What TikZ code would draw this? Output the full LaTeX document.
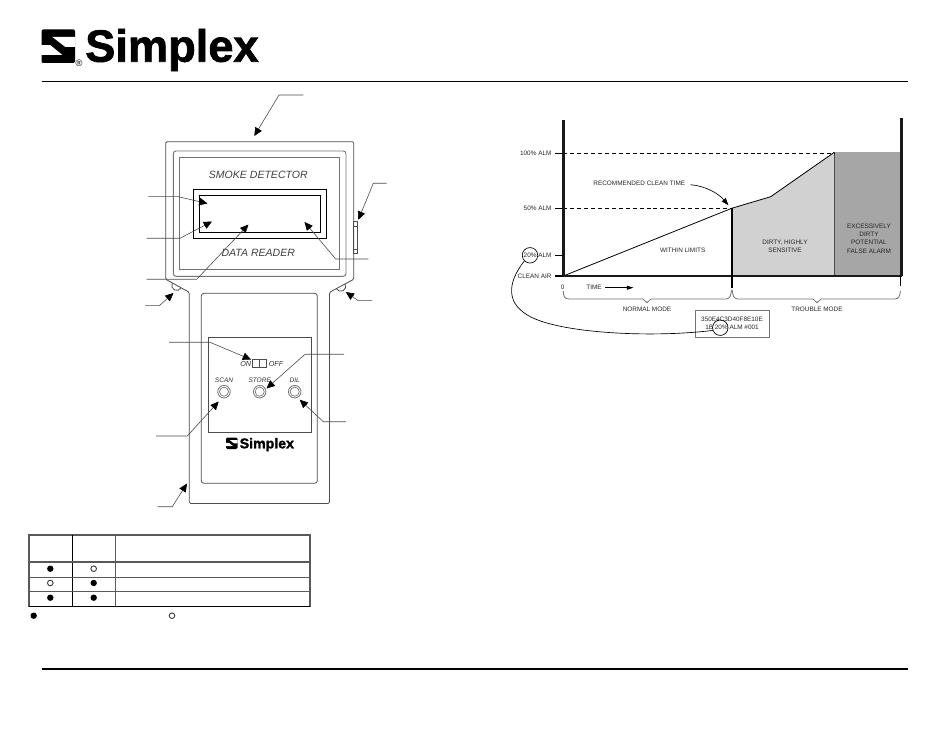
\documentclass[tikz,border=0pt]{standalone}
\usepackage{fontspec}
\setmainfont{Liberation Sans}
\newfontfamily\brandfont{Liberation Sans}[BoldFeatures={FakeBold=1.6}]
\usetikzlibrary{arrows.meta}
\definecolor{lightfill}{gray}{0.82}
\definecolor{darkfill}{gray}{0.65}
\definecolor{devline}{gray}{0.3}
\definecolor{softline}{gray}{0.45}
\newcommand{\leaderline}[4]{%
  \coordinate (#1s) at #2; \coordinate (#1k) at #3; \coordinate (#1t) at #4;
  \draw[leader] (#1s) -- (#1k) -- (#1t);}
\newcommand{\logomark}[3]{%
  \begin{scope}[shift={(#1,#2)},x=#3*0.75pt,y=-#3*0.75pt]
    \fill[black,rounded corners=1pt] (0,0) rectangle (1,1);
    \fill[white] (0.32,0.22) -- (1.01,0.22) -- (1.01,0.52) -- (0.71,0.52) -- cycle;
    \fill[white] (-0.01,0.47) -- (0.27,0.47) -- (0.62,0.76) -- (-0.01,0.76) -- cycle;
  \end{scope}}
\tikzset{
  px/.style={x=0.75pt,y=-0.75pt},
  leader/.style={draw=devline,line width=0.45pt,-{Triangle[length=6.2pt,width=5.6pt,color=black]}},
  devbox/.style={draw=devline,line width=0.6pt},
  softbox/.style={draw=softline,line width=0.7pt},
  lcdbox/.style={draw=black,line width=0.9pt},
  devlabel/.style={inner sep=0pt,font=\itshape\fontsize{7.9pt}{9pt}\selectfont,text=black!75},
  keylabel/.style={inner sep=0pt,font=\itshape\fontsize{4.9pt}{6pt}\selectfont,text=black!80},
  chartlabel/.style={inner sep=0pt,font=\fontsize{4.8pt}{6pt}\selectfont,text=black!85,align=center},
  alarmlabel/.style={chartlabel,anchor=east},
  axisline/.style={draw=black!90,line width=2pt},
  tick/.style={draw=black,line width=0.8pt},
  limit/.style={draw=black,line width=0.6pt,dash pattern=on 3pt off 2.2pt},
  brace/.style={draw=softline,line width=0.6pt},
  rule/.style={draw=black,line width=1.1pt},
  ledon/.style={circle,fill=black,inner sep=0pt,minimum size=4.8pt},
  ledoff/.style={circle,draw=black!75,fill=white,line width=0.7pt,inner sep=0pt,minimum size=4.2pt},
  tablegrid/.style={draw=black!65,line width=0.9pt},
}
\begin{document}
\begin{tikzpicture}[px]
\useasboundingbox (0,0) rectangle (950,734);
\fill[white] (0,0) rectangle (950,734);

% header
\logomark{41.5}{29.5}{33.5}
\node[anchor=base west,inner sep=0pt,font=\brandfont\bfseries\fontsize{33.9pt}{34pt}\selectfont] (brand) at (85,61.7) {Simplex};
\node[inner sep=0pt,font=\fontsize{7pt}{7pt}\selectfont] (regmark) at (79,63.3) {®};
\coordinate (toprulea) at (41.5,81.7); \coordinate (topruleb) at (908,81.7);
\draw[rule] (toprulea) -- (topruleb);
\coordinate (botrulea) at (41.5,669); \coordinate (botruleb) at (908,669);
\draw[rule] (botrulea) -- (botruleb);

% device body
\draw[devbox,rounded corners=1pt] (189.3,292.3) -- (165.7,279.3) -- (165.7,141.7) -- (353.7,141.7) -- (353.7,279.3) -- (329.5,292.3) -- (329.5,503.5) -- (189.3,503.5) -- cycle;
\draw[softbox,rounded corners=2pt] (173.3,151) rectangle (346,276.3);
\draw[softbox] (179.3,157.3) rectangle (339.3,269.3);
\draw[lcdbox] (193.3,189.3) rectangle (326.3,238.3);
\draw[lcdbox] (199.3,195.3) rectangle (320.3,232.3);
\draw[devbox] (353.7,221.7) rectangle (357.7,253.3);
\draw[devbox] (353.7,226) -- (357.7,226) (353.7,249) -- (357.7,249);
\draw[devbox] (181.1,287.9) arc[start angle=29,end angle=209,radius=5];
\draw[devbox] (336.3,288.65) arc[start angle=152,end angle=-28,radius=5];
\node[devlabel] (smoke) at (258.3,175) {SMOKE DETECTOR};
\node[devlabel] (reader) at (258.3,253.3) {DATA READER};

% lower panel
\draw[devbox,rounded corners=2pt] (201.3,293.3) rectangle (317.3,483.3);
\draw[devbox] (208,337.3) rectangle (311.3,432.3);
\draw[devbox,line width=0.7pt] (252.7,359.7) rectangle (266.7,367.3);
\draw[devbox,line width=0.7pt] (259.7,359.7) -- (259.7,367.3);
\node[keylabel,font=\itshape\fontsize{5.4pt}{6pt}\selectfont] (onlab) at (245.7,363.7) {ON};
\node[keylabel,font=\itshape\fontsize{5.4pt}{6pt}\selectfont] (offlab) at (276,363.7) {OFF};
\node[keylabel] (scanlab) at (224,380) {SCAN};
\node[keylabel] (storelab) at (259.7,380) {STORE};
\node[keylabel] (dillab) at (294.7,380) {DIL};
\foreach \n/\x in {scan/224,store/259.7,dil/294.7}{
  \node[circle,draw=softline,line width=0.6pt,minimum size=9.4pt,inner sep=0pt] (\n key) at (\x,391.7) {};
  \node[circle,draw=softline,line width=0.5pt,minimum size=6.8pt,inner sep=0pt] (\n keyin) at (\x,391.7) {};
}
\logomark{226}{437.5}{11.5}
\node[anchor=base west,inner sep=0pt,font=\brandfont\bfseries\fontsize{10.6pt}{12pt}\selectfont] (brandsmall) at (239.5,448.3) {Simplex};

% leaders
\leaderline{la}{(303.3,95)}{(279,95)}{(254.3,136)}
\leaderline{lb}{(386.7,183.3)}{(373.3,183.3)}{(358.3,219.8)}
\leaderline{lc}{(148.3,196.7)}{(178.3,196.7)}{(207.5,203.5)}
\leaderline{ld}{(146.7,238.3)}{(180,238.3)}{(212,221.5)}
\leaderline{le}{(146.7,279.3)}{(196.7,279.3)}{(248.5,224.5)}
\leaderline{lf}{(368.3,259)}{(335.7,259)}{(304.5,222)}
\leaderline{lg}{(145,305.7)}{(159.3,305.7)}{(173.5,293)}
\leaderline{lh}{(372.3,300.7)}{(358.3,300.7)}{(345.8,292)}
\leaderline{li}{(169,342.3)}{(210,342.3)}{(251,359.5)}
\leaderline{lj}{(344,354.3)}{(305,354.3)}{(266.5,388.5)}
\leaderline{lk}{(346,421.7)}{(323.3,421.7)}{(299.7,399.7)}
\leaderline{ll}{(156,436)}{(187.3,436)}{(218.7,401.5)}
\leaderline{lm}{(157.7,506.7)}{(172.3,506.7)}{(187,483.5)}

% table
\draw[tablegrid] (29,535) rectangle (310,606.3);
\draw[tablegrid] (115.7,535) -- (115.7,606.3);
\draw[draw=black,line width=0.9pt] (72.3,535) -- (72.3,606.3);
\draw[draw=black,line width=0.9pt] (29,606.3) -- (310,606.3);
\draw[draw=black!65,line width=1.8pt] (29,561.7) -- (310,561.7);
\draw[tablegrid] (29,577.3) -- (310,577.3) (29,591.7) -- (310,591.7);
\node[ledon] (r1a) at (50.3,568.7) {}; \node[ledoff] (r1b) at (93.7,568.7) {};
\node[ledoff] (r2a) at (50.3,583) {}; \node[ledon] (r2b) at (93.7,583) {};
\node[ledon] (r3a) at (50.3,597.7) {}; \node[ledon] (r3b) at (93.7,597.7) {};
\node[ledon] (keyon) at (33.7,615.7) {}; \node[ledoff] (keyoff) at (172,615.7) {};

% chart fills
\fill[lightfill] (731.7,208.3) -- (770.7,196.7) -- (834.3,152.3) -- (834.3,276) -- (731.7,276) -- cycle;
\fill[darkfill] (834.3,152.3) rectangle (901,276);
\draw[draw=black!70,line width=0.6pt] (834.3,152.3) -- (834.3,276);
\draw[draw=black,line width=0.6pt] (563.3,276) -- (731.7,208.3) -- (770.7,196.7) -- (834.3,152.3);
\draw[limit] (563.3,153.3) -- (834.3,153.3);
\draw[limit] (563.3,208.3) -- (731.7,208.3);
\draw[axisline] (563.3,120) -- (563.3,276);
\draw[axisline] (562.6,276) -- (902,276);
\draw[axisline] (901.5,118.5) -- (901.5,276);
\draw[draw=black,line width=1.4pt] (731.7,208.3) -- (731.7,287.7);
\draw[draw=black,line width=0.4pt] (900.7,276) -- (900.7,286);
\foreach \y in {153.3,208.3,255.3,276}{\draw[tick] (555,\y) -- (563.3,\y);}

\node[alarmlabel] (a100) at (551.7,153.3) {100\% ALM};
\node[alarmlabel] (a50) at (551.7,208.3) {50\% ALM};
\node[alarmlabel] (a20) at (551.7,255.3) {20\% ALM};
\node[alarmlabel] (aclean) at (551.7,276) {CLEAN AIR};
\node[circle,draw=black,line width=0.5pt,minimum size=11.6pt,inner sep=0pt] (circleA) at (530,255.3) {};

\node[chartlabel] (recommended) at (639.3,183.7) {RECOMMENDED CLEAN TIME};
\draw[draw=black,line width=0.5pt,-{Triangle[length=5.5pt,width=3.8pt,color=black]}] (690.7,184.7) .. controls (705,186) and (718,193) .. (728.5,205.3);
\node[chartlabel] (within) at (682.7,250.3) {WITHIN LIMITS};
\node[chartlabel] (dirty) at (785,246.7) {DIRTY, HIGHLY\\[0.1pt]SENSITIVE};
\node[chartlabel] (excess) at (869,238.7) {EXCESSIVELY\\[0.1pt]DIRTY\\[0.1pt]POTENTIAL\\[0.1pt]FALSE ALARM};

\node[chartlabel] (zero) at (562.7,287) {0};
\node[chartlabel] (timelab) at (594,287.7) {TIME};
\coordinate (timea) at (605,287.7); \coordinate (timeb) at (633.5,287.7);
\draw[draw=black,line width=0.5pt,-{Triangle[length=5pt,width=3pt,color=black]}] (timea) -- (timeb);

\draw[brace] (563.3,291) .. controls (563.5,296) and (564,299) .. (569,299) -- (643,299) -- (647,302.7) -- (651,299) -- (726,299) .. controls (730,299) and (731,295) .. (731.5,290);
\draw[brace] (732.2,290) .. controls (732.7,295) and (733.5,299) .. (738,299) -- (813,299) -- (817,302.7) -- (821,299) -- (895,299) .. controls (899,299) and (900,295) .. (900.4,291);
\node[chartlabel] (normal) at (647,309.3) {NORMAL MODE};
\node[chartlabel] (trouble) at (817,309.3) {TROUBLE MODE};

\node[draw=softline,line width=0.6pt,fill=white,minimum width=55.2pt,minimum height=20.6pt,inner sep=0pt,anchor=north west] (databox) at (695.3,309.7) {};
\node[chartlabel] (dataa) at (732,319.3) {350E4C3D40F8E10E};
\node[chartlabel] (datab) at (732,327.3) {1B 20\% ALM \#001};
\node[circle,draw=black,line width=0.5pt,minimum size=11.6pt,inner sep=0pt] (circleB) at (720.3,327.7) {};
\draw[draw=black,line width=0.5pt] (circleA.225) .. controls (507,283) and (505,305) .. (533,318) .. controls (565,333) and (650,338) .. (circleB.200);
\end{tikzpicture}
\end{document}
